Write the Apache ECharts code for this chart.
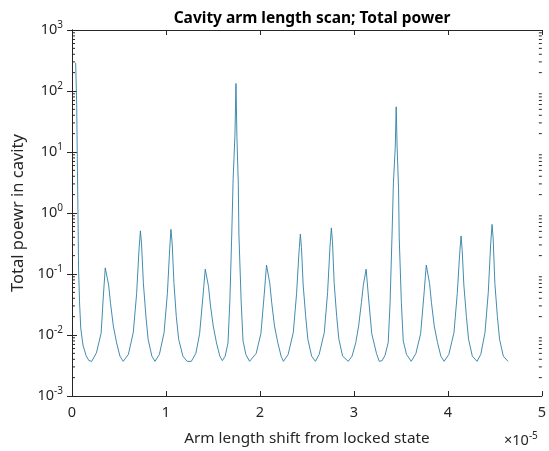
<!DOCTYPE html>
<html>
<head>
<meta charset="utf-8">
<script src="https://cdn.jsdelivr.net/npm/echarts@6/dist/echarts.min.js"></script>
<style>
  html, body { margin: 0; padding: 0; background: #fff; }
  #chart { width: 549px; height: 451px; }
</style>
</head>
<body>
<div id="chart"></div>
<script>
// arm length shift (units of 1e-5) and total power
const shift = [
  0.039, 0.05, 0.058, 0.064, 0.07, 0.08, 0.093, 0.117, 0.15, 0.18, 0.21,
  0.26, 0.31, 0.333, 0.354, 0.39, 0.41, 0.44, 0.475, 0.51, 0.545,
  0.60, 0.652, 0.688, 0.713, 0.728, 0.74, 0.76, 0.787, 0.81, 0.85, 0.883,
  0.93, 0.98, 1.015, 1.04, 1.053, 1.066, 1.085, 1.11, 1.135, 1.18, 1.225,
  1.27, 1.318, 1.358, 1.393, 1.418, 1.453, 1.473, 1.503, 1.538, 1.573,
  1.60, 1.63, 1.66, 1.68, 1.70, 1.715, 1.734, 1.745, 1.755, 1.77, 1.776, 1.80, 1.82, 1.85, 1.89,
  1.96, 2.01, 2.045, 2.07, 2.105, 2.125, 2.155, 2.19, 2.225, 2.25,
  2.30, 2.355, 2.39, 2.415, 2.43, 2.442, 2.46, 2.487, 2.51, 2.55, 2.59,
  2.63, 2.685, 2.72, 2.745, 2.76, 2.772, 2.79, 2.817, 2.84, 2.88, 2.94,
  2.98, 3.02, 3.05, 3.08, 3.10, 3.13, 3.155, 3.19, 3.24, 3.27,
  3.30, 3.33, 3.365, 3.385, 3.405, 3.42, 3.44, 3.45, 3.46, 3.475, 3.482, 3.505, 3.525, 3.56, 3.61,
  3.66, 3.71, 3.745, 3.77, 3.805, 3.825, 3.855, 3.89, 3.925, 3.96,
  4.01, 4.065, 4.10, 4.125, 4.14, 4.152, 4.17, 4.197, 4.22, 4.26, 4.31,
  4.35, 4.395, 4.43, 4.455, 4.47, 4.482, 4.50, 4.527, 4.55, 4.59, 4.64
];
const power = [
  290, 60, 5, 0.9, 0.12, 0.035, 0.013, 0.0068, 0.0046, 0.0038, 0.0037,
  0.0051, 0.0107, 0.042, 0.126, 0.066, 0.033, 0.014, 0.0074, 0.0045, 0.0037,
  0.0048, 0.011, 0.048, 0.25, 0.51, 0.31, 0.069, 0.020, 0.0085, 0.0045, 0.0037,
  0.0048, 0.011, 0.048, 0.26, 0.54, 0.32, 0.07, 0.02, 0.0085, 0.0045, 0.0037,
  0.0037, 0.005, 0.0105, 0.042, 0.12, 0.062, 0.031, 0.014, 0.0074, 0.0045,
  0.0038, 0.0045, 0.0074, 0.036, 0.45, 3.7, 19, 133, 18, 2.9, 0.45, 0.036, 0.008, 0.0048, 0.0037,
  0.005, 0.0105, 0.045, 0.14, 0.07, 0.034, 0.014, 0.0075, 0.0045, 0.0037,
  0.0048, 0.011, 0.048, 0.22, 0.45, 0.27, 0.066, 0.02, 0.0085, 0.0045, 0.0037,
  0.0048, 0.011, 0.05, 0.27, 0.57, 0.34, 0.07, 0.02, 0.0085, 0.0045, 0.0037,
  0.0045, 0.0075, 0.014, 0.034, 0.065, 0.12, 0.042, 0.0105, 0.005, 0.0037,
  0.0038, 0.0046, 0.0075, 0.034, 0.4, 3, 12, 55, 12, 2.5, 0.4, 0.034, 0.008, 0.0048, 0.0037,
  0.005, 0.0105, 0.045, 0.14, 0.07, 0.034, 0.014, 0.0075, 0.0045, 0.0037,
  0.0048, 0.011, 0.048, 0.21, 0.42, 0.25, 0.066, 0.02, 0.0085, 0.0045, 0.0037,
  0.0048, 0.011, 0.05, 0.3, 0.65, 0.38, 0.07, 0.02, 0.0085, 0.0045, 0.0037
];
const xTicks = [0, 1, 2, 3, 4, 5];
const yDecades = [-3, -2, -1, 0, 1, 2, 3];
const minorSteps = [2, 3, 4, 5, 6, 7, 8, 9];

const ink = '#262626';
const font = 'Noto Sans';
const xMin = xTicks[0], xMax = xTicks[xTicks.length - 1];
const yMin = Math.pow(10, yDecades[0]), yMax = Math.pow(10, yDecades[yDecades.length - 1]);

// minor log ticks 2..9 x 10^k (MATLAB style)
const minorTicks = [];
yDecades.slice(0, -1).forEach(d => minorSteps.forEach(m => minorTicks.push(m * Math.pow(10, d))));

const chart = echarts.init(document.getElementById('chart'));

chart.setOption({
  animation: false,
  title: {
    text: 'Cavity arm length scan; Total power',
    left: 307, textAlign: 'center', top: 6,
    textStyle: { fontFamily: font, fontSize: 15.5, fontWeight: 'bold', color: '#000' }
  },
  grid: { left: 72, right: 7, top: 30, bottom: 51 },
  xAxis: [{
    type: 'value', min: xMin, max: xMax, interval: 1,
    name: 'Arm length shift from locked state', nameLocation: 'middle', nameGap: 35,
    nameTextStyle: { fontFamily: font, fontSize: 15.3, color: ink },
    axisLine: { lineStyle: { color: ink, width: 1 } },
    axisTick: { inside: true, length: 5, lineStyle: { color: ink } },
    axisLabel: { fontFamily: font, fontSize: 14.5, color: ink, margin: 9 },
    splitLine: { show: false }
  }, {
    type: 'value', position: 'top', min: xMin, max: xMax, interval: 1,
    axisLine: { lineStyle: { color: ink, width: 1 } },
    axisTick: { inside: true, length: 5, lineStyle: { color: ink } },
    axisLabel: { show: false }, splitLine: { show: false }
  }],
  yAxis: [{
    type: 'log', logBase: 10, min: yMin, max: yMax,
    name: 'Total poewr in cavity', nameLocation: 'middle', nameGap: 40,
    nameTextStyle: { fontFamily: font, fontSize: 16.5, color: ink },
    axisLine: { show: true, lineStyle: { color: ink, width: 1 } },
    axisTick: { show: true, inside: true, length: 5, lineStyle: { color: ink } },
    axisLabel: {
      margin: 9, color: ink,
      formatter: v => '{b|10}{s|' + Math.round(Math.log10(v)) + '}',
      rich: {
        b: { fontSize: 14.5, color: ink, fontFamily: font },
        s: { fontSize: 10, color: ink, fontFamily: font, padding: [0, 0, 10, 0] }
      }
    },
    splitLine: { show: false }
  }, {
    type: 'log', logBase: 10, position: 'right', min: yMin, max: yMax,
    axisLine: { show: true, lineStyle: { color: ink, width: 1 } },
    axisTick: { show: true, inside: true, length: 5, lineStyle: { color: ink } },
    axisLabel: { show: false }, splitLine: { show: false }
  }],
  graphic: [{
    type: 'text', left: 504, top: 431,
    style: {
      text: '{b|\u00d710}{s|-5}',
      rich: {
        b: { fontSize: 14.5, fill: ink, fontFamily: font },
        s: { fontSize: 10, fill: ink, fontFamily: font, padding: [0, 0, 10, 0] }
      }
    }
  }],
  series: [{
    type: 'line',
    xAxisIndex: 0, yAxisIndex: 0,
    showSymbol: false,
    lineStyle: { color: '#2e7fa6', width: 0.9 },
    data: shift.map((x, i) => [x, power[i]])
  }, {
    type: 'custom',
    xAxisIndex: 0, yAxisIndex: 0,
    clip: false, silent: true,
    data: minorTicks.map(v => [xMin, v]),
    renderItem: (params, api) => {
      const l = api.coord([xMin, api.value(1)]);
      const r = api.coord([xMax, api.value(1)]);
      const style = { stroke: ink, lineWidth: 1 };
      return {
        type: 'group',
        children: [
          { type: 'line', shape: { x1: l[0], y1: l[1], x2: l[0] + 3, y2: l[1] }, style },
          { type: 'line', shape: { x1: r[0], y1: r[1], x2: r[0] - 3, y2: r[1] }, style }
        ]
      };
    }
  }]
});
</script>
</body>
</html>
